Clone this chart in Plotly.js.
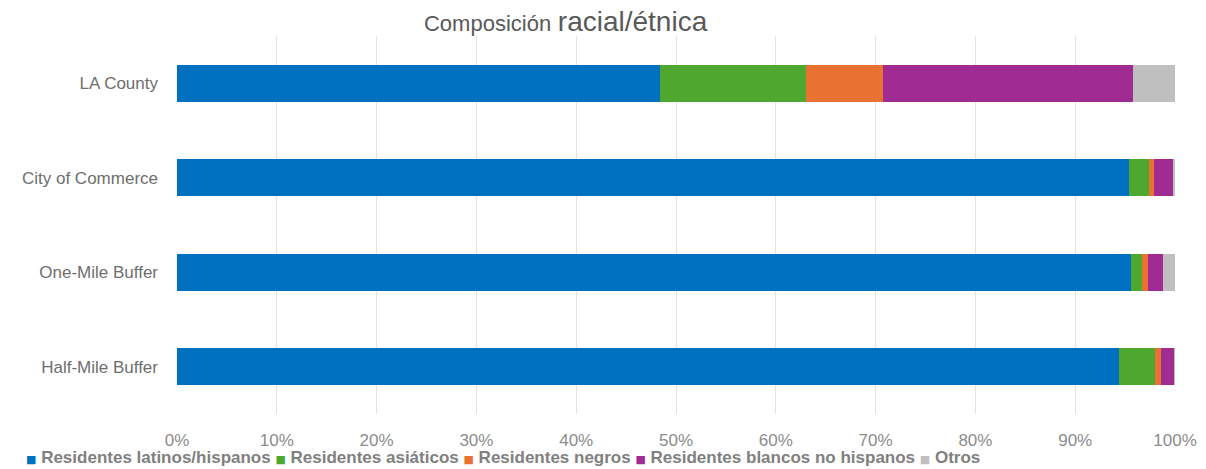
<!DOCTYPE html>
<html>
<head>
<meta charset="utf-8">
<script src="https://cdn.plot.ly/plotly-3.0.1.min.js"></script>
<style>html,body{margin:0;padding:0;background:#fff;}#chart{width:1206px;height:469px;}</style>
</head>
<body>
<div id="chart"></div>
<script>
const categories = ["LA County", "City of Commerce", "One-Mile Buffer", "Half-Mile Buffer"];
const seriesNames = ["Residentes latinos/hispanos", "Residentes asiáticos", "Residentes negros", "Residentes blancos no hispanos", "Otros"];
const latinos = [48.4, 95.4, 95.6, 94.4];
const asiaticos = [14.6, 2.0, 1.1, 3.6];
const negros = [7.7, 0.5, 0.6, 0.6];
const blancos = [25.1, 1.9, 1.5, 1.3];
const otros = [4.2, 0.2, 1.2, 0.1];
const tickVals = [0, 10, 20, 30, 40, 50, 60, 70, 80, 90, 100];
const tickText = ["0%", "10%", "20%", "30%", "40%", "50%", "60%", "70%", "80%", "90%", "100%"];

const colors = ["#0070C0", "#4EA72E", "#E97132", "#A02B93", "#BFBFBF"];
const seriesValues = [latinos, asiaticos, negros, blancos, otros];

const data = seriesValues.map((vals, i) => ({
  type: "bar",
  orientation: "h",
  name: seriesNames[i],
  x: vals,
  y: categories,
  marker: {color: colors[i]},
  width: 0.39,
  hoverinfo: "x+name"
}));

// Legend drawn as one text line, built from the series names and colours
const legendText = seriesNames.map((n, i) =>
  "<span style='color:" + colors[i] + ";font-size:11px;font-family:DejaVu Sans'>■</span> " + n
).join(" ");

const layout = {
  width: 1206,
  height: 469,
  barmode: "stack",
  paper_bgcolor: "#ffffff",
  plot_bgcolor: "#ffffff",
  margin: {l: 177, r: 31, t: 36, b: 55},
  showlegend: false,
  title: {
    text: "<span style='font-size:22px'>Composición</span> <span style='font-size:28px'>racial/étnica</span>",
    font: {family: "Liberation Sans, Arial, sans-serif", size: 24, color: "#595959"},
    x: 0.469, xref: "container", xanchor: "center",
    y: 0.952, yref: "container", yanchor: "middle"
  },
  xaxis: {
    range: [0, 100],
    tickvals: tickVals,
    ticktext: tickText,
    showgrid: true,
    gridcolor: "#E3E3E3",
    gridwidth: 1,
    zeroline: false,
    showline: false,
    ticks: "",
    ticklabelstandoff: 14,
    tickfont: {family: "Liberation Sans, Arial, sans-serif", size: 17, color: "#8C8C8C"},
    fixedrange: true
  },
  yaxis: {
    categoryorder: "array",
    categoryarray: categories,
    autorange: "reversed",
    showgrid: false,
    zeroline: false,
    showline: false,
    ticks: "",
    ticklabelstandoff: 18,
    tickfont: {family: "Liberation Sans, Arial, sans-serif", size: 17, color: "#6E6E6E"},
    fixedrange: true
  },
  annotations: [{
    text: legendText,
    xref: "paper", x: (24 - 177) / 998, xanchor: "left",
    yref: "paper", y: -(458 - 414) / 378, yanchor: "middle",
    showarrow: false,
    align: "left",
    font: {family: "Liberation Sans, Arial, sans-serif", size: 17, color: "#808080", weight: "bold"}
  }]
};

Plotly.newPlot("chart", data, layout, {displayModeBar: false, staticPlot: true});
</script>
</body>
</html>
